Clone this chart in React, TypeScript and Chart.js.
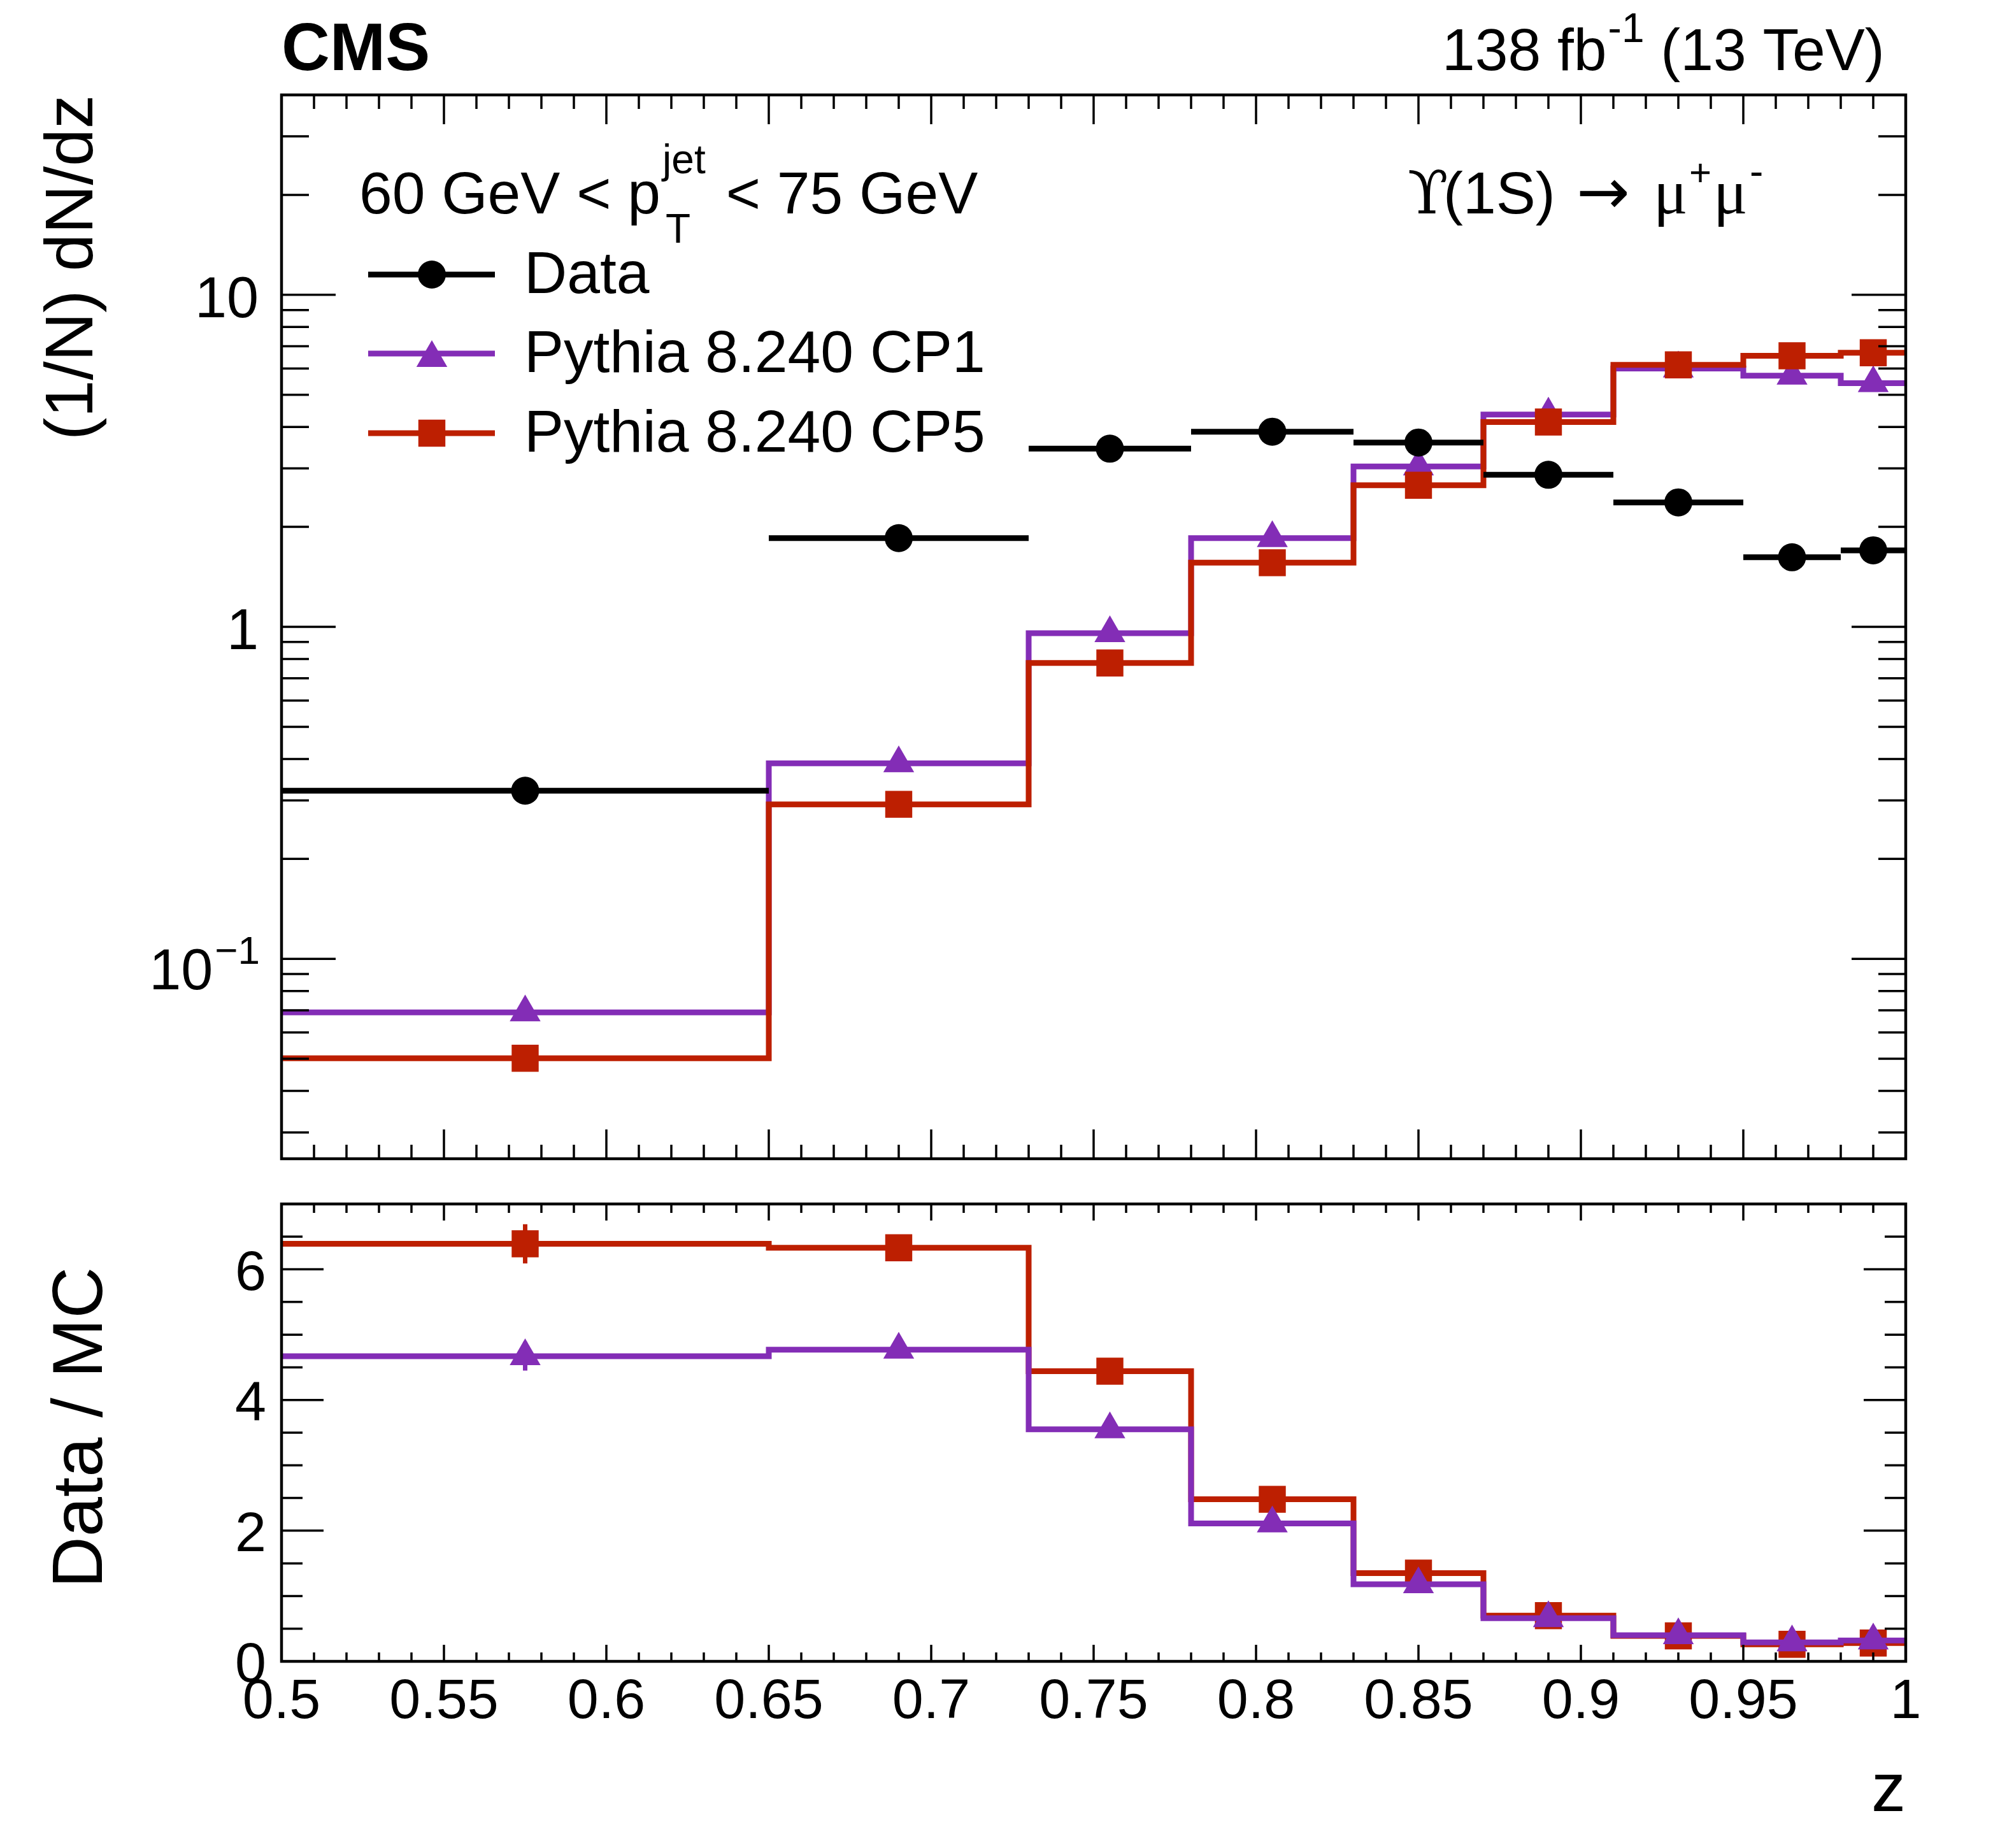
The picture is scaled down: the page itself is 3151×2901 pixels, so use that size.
import React, { useEffect, useRef } from "react";
import { Chart, registerables } from "chart.js";

Chart.register(...registerables);

// ---------------- data ----------------
const binEdges = [0.5, 0.65, 0.73, 0.78, 0.83, 0.87, 0.91, 0.95, 0.98, 1.0];
const dataValues = [0.321, 1.85, 3.44, 3.87, 3.59, 2.87, 2.37, 1.62, 1.7];
const cp1Values = [0.069, 0.388, 0.957, 1.85, 3.04, 4.36, 6.0, 5.71, 5.42];
const cp5Values = [0.0502, 0.292, 0.778, 1.56, 2.67, 4.14, 6.15, 6.55, 6.69];
const ratioCP1 = [4.67, 4.77, 3.55, 2.11, 1.18, 0.66, 0.4, 0.29, 0.32];
const ratioCP5 = [6.39, 6.33, 4.44, 2.48, 1.35, 0.7, 0.39, 0.26, 0.28];
const ratioCP1Err = [0.22, 0.12, 0.1, 0.06, 0.04, 0.03, 0.02, 0.02, 0.02];
const ratioCP5Err = [0.3, 0.16, 0.12, 0.07, 0.05, 0.03, 0.02, 0.02, 0.02];

const xMajorTicks = [0.5, 0.55, 0.6, 0.65, 0.7, 0.75, 0.8, 0.85, 0.9, 0.95, 1.0];
const xTickLabels = ["0.5", "0.55", "0.6", "0.65", "0.7", "0.75", "0.8", "0.85", "0.9", "0.95", "1"];
const upperYMajorTicks = [0.1, 1, 10];
const upperYTickBase = ["10", "1", "10"];
const upperYTickExp = ["\u22121", "", ""];
const lowerYMajorTicks = [0, 2, 4, 6];
const lowerYTickLabels = ["0", "2", "4", "6"];

const seriesLabels = ["Data", "Pythia 8.240 CP1", "Pythia 8.240 CP5"];

// ---------------- layout / style ----------------
const W = 3151;
const H = 2901;
const TOP_H = 1860;
const BOT_H = H - TOP_H;
const PLOT_L = 442;
const PLOT_R = 2992;
const TOP_T = 149;
const TOP_B = 1819;
const BOT_T = 1876;
const BOT_B = 2608;

const PURPLE = "#832DB6";
const RED = "#BD1F01";
const BLACK = "#000000";
const FONT = '"Liberation Sans", Arial, Helvetica, sans-serif';
const SERIF = '"Liberation Serif", "DejaVu Serif", serif';

const R_CIRCLE = 22;
const R_TRI = 28;
const R_RECT = 30;
const STEP_W = 9;

const binCenters = binEdges.slice(0, -1).map((e, i) => (e + binEdges[i + 1]) / 2);

const stepPoints = (vals: number[]) => [
  ...vals.map((v, i) => ({ x: binEdges[i], y: v })),
  { x: binEdges[binEdges.length - 1], y: vals[vals.length - 1] },
];
const barPoints = (vals: number[]) =>
  vals.flatMap((v, i) => [
    { x: binEdges[i], y: v },
    { x: binEdges[i + 1], y: v },
    { x: binEdges[i + 1], y: null as any },
  ]);
const centerPoints = (vals: number[]) => vals.map((v, i) => ({ x: binCenters[i], y: v }));

function stepDataset(label: string, vals: number[], color: string, order: number) {
  return {
    type: "line" as const,
    label,
    data: stepPoints(vals),
    stepped: "before" as const,
    borderColor: color,
    borderWidth: STEP_W,
    borderJoinStyle: "miter" as const,
    borderCapStyle: "butt" as const,
    pointRadius: 0,
    fill: false,
    order,
  };
}
function markerDataset(label: string, vals: number[], color: string, style: string, r: number, order: number) {
  return {
    type: "line" as const,
    label,
    data: centerPoints(vals),
    showLine: false,
    pointStyle: style,
    pointRadius: r,
    pointBackgroundColor: color,
    pointBorderColor: color,
    pointBorderWidth: 0,
    order,
  };
}

// ---------------- drawing helpers ----------------
function txt(ctx: CanvasRenderingContext2D, s: string, x: number, y: number, size: number, align: CanvasTextAlign = "left", bold = false, family = FONT) {
  ctx.font = `${bold ? "bold " : ""}${size}px ${family}`;
  ctx.textAlign = align;
  ctx.textBaseline = "alphabetic";
  ctx.fillStyle = "#000";
  ctx.fillText(s, x, y);
  return ctx.measureText(s).width;
}
function seg(ctx: CanvasRenderingContext2D, x1: number, y1: number, x2: number, y2: number) {
  ctx.beginPath();
  ctx.moveTo(x1, y1);
  ctx.lineTo(x2, y2);
  ctx.stroke();
}
function marker(ctx: CanvasRenderingContext2D, style: string, x: number, y: number, r: number, color: string) {
  ctx.fillStyle = color;
  ctx.beginPath();
  if (style === "circle") ctx.arc(x, y, r, 0, Math.PI * 2);
  else if (style === "triangle") {
    ctx.moveTo(x, y - r);
    ctx.lineTo(x + 0.866 * r, y + 0.5 * r);
    ctx.lineTo(x - 0.866 * r, y + 0.5 * r);
    ctx.closePath();
  } else {
    const s = Math.SQRT1_2 * r;
    ctx.rect(x - s, y - s, 2 * s, 2 * s);
  }
  ctx.fill();
}
function xTickValues() {
  const out: { v: number; major: boolean }[] = [];
  for (let k = 50; k <= 100; k++) out.push({ v: k / 100, major: k % 5 === 0 });
  return out;
}
function drawXTicks(chart: any, majorLen: number, minorLen: number) {
  const ctx = chart.ctx;
  const ca = chart.chartArea;
  const xs = chart.scales.x;
  for (const t of xTickValues()) {
    const px = xs.getPixelForValue(t.v);
    const len = t.major ? majorLen : minorLen;
    seg(ctx, px, ca.bottom, px, ca.bottom - len);
    seg(ctx, px, ca.top, px, ca.top + len);
  }
}
function drawYTick(chart: any, py: number, len: number) {
  const ctx = chart.ctx;
  const ca = chart.chartArea;
  seg(ctx, ca.left, py, ca.left + len, py);
  seg(ctx, ca.right, py, ca.right - len, py);
}
function drawFrame(chart: any) {
  const ctx = chart.ctx;
  const ca = chart.chartArea;
  ctx.strokeStyle = "#000";
  ctx.lineWidth = 4.5;
  ctx.strokeRect(ca.left, ca.top, ca.right - ca.left, ca.bottom - ca.top);
}

// ---------------- plugins ----------------
const upperDecor = {
  id: "upperDecor",
  afterDraw(chart: any) {
    const ctx: CanvasRenderingContext2D = chart.ctx;
    const ys = chart.scales.y;
    const ca = chart.chartArea;
    ctx.save();
    drawFrame(chart);
    ctx.lineWidth = 3.5;
    drawXTicks(chart, 46, 22);
    const ymin = ys.min;
    const ymax = ys.max;
    for (const dec of [0.01, 0.1, 1, 10]) {
      for (let k = 1; k <= 9; k++) {
        const v = k * dec;
        if (v < ymin * 0.999 || v > ymax * 1.001) continue;
        drawYTick(chart, ys.getPixelForValue(v), k === 1 ? 85 : 43);
      }
    }
    // y tick labels
    upperYMajorTicks.forEach((v, i) => {
      const py = ys.getPixelForValue(v);
      const exp = upperYTickExp[i];
      if (exp) {
        const ew = txt(ctx, exp, 408, py + 8, 62, "right");
        txt(ctx, upperYTickBase[i], 408 - ew - 3, py + 48, 90, "right");
      } else {
        txt(ctx, upperYTickBase[i], 406, py + 35, 90, "right");
      }
    });
    // y title
    ctx.save();
    ctx.translate(145, ca.top);
    ctx.rotate(-Math.PI / 2);
    txt(ctx, "(1/N) dN/dz", 0, 0, 106, "right");
    ctx.restore();
    // CMS + lumi
    txt(ctx, "CMS", ca.left, 110, 105, "left", true);
    let x = 2264;
    x += txt(ctx, "138 fb", x, 110, 93);
    x += 2 + txt(ctx, "-1", x + 2, 66, 64);
    txt(ctx, " (13 TeV)", x, 110, 93);
    // header
    x = 564;
    x += txt(ctx, "60 GeV < p", x, 335, 93);
    const jw = txt(ctx, "jet", x + 3, 272, 64);
    const tw = txt(ctx, "T", x + 8, 381, 64);
    const x2 = Math.max(x + 3 + jw, x + 8 + tw);
    txt(ctx, "< 75 GeV", x2 + 32, 335, 93);
    // legend
    const legendStyles = [
      { color: BLACK, style: "circle", r: R_CIRCLE },
      { color: PURPLE, style: "triangle", r: R_TRI },
      { color: RED, style: "rect", r: R_RECT },
    ];
    const legendY = [431, 555, 680];
    legendStyles.forEach((s, i) => {
      const cy = legendY[i];
      ctx.strokeStyle = s.color;
      ctx.lineWidth = STEP_W;
      seg(ctx, 578, cy, 777, cy);
      marker(ctx, s.style, 678, s.style === "triangle" ? cy + 7 : cy, s.r, s.color);
      txt(ctx, seriesLabels[i], 823, cy + 29, 93);
    });
    // channel label
    txt(ctx, "\u03D2", 2210, 335, 93, "left", false, '"DejaVu Serif", "Liberation Serif", serif');
    txt(ctx, "(1S)", 2266, 335, 93);
    txt(ctx, "\u2192", 2475, 335, 100, "left", false, '"DejaVu Sans", sans-serif');
    txt(ctx, "\u03BC", 2596, 335, 100, "left", false, SERIF);
    txt(ctx, "+", 2652, 291, 60);
    txt(ctx, "\u03BC", 2690, 335, 100, "left", false, SERIF);
    txt(ctx, "-", 2747, 291, 64);
    ctx.restore();
  },
};

const lowerDecor = {
  id: "lowerDecor",
  beforeDatasetsDraw(chart: any) {
    const ctx: CanvasRenderingContext2D = chart.ctx;
    const xs = chart.scales.x;
    const ys = chart.scales.y;
    ctx.save();
    const drawErr = (vals: number[], errs: number[], color: string) => {
      ctx.strokeStyle = color;
      ctx.lineWidth = 7;
      vals.forEach((v, i) => {
        const px = xs.getPixelForValue(binCenters[i]);
        seg(ctx, px, ys.getPixelForValue(v - errs[i]), px, ys.getPixelForValue(v + errs[i]));
      });
    };
    drawErr(ratioCP5, ratioCP5Err, RED);
    drawErr(ratioCP1, ratioCP1Err, PURPLE);
    ctx.restore();
  },
  afterDraw(chart: any) {
    const ctx: CanvasRenderingContext2D = chart.ctx;
    const xs = chart.scales.x;
    const ys = chart.scales.y;
    const ca = chart.chartArea;
    ctx.save();
    drawFrame(chart);
    ctx.lineWidth = 3.5;
    drawXTicks(chart, 26, 14);
    for (let k = 0; k <= 14; k++) {
      const v = k * 0.5;
      drawYTick(chart, ys.getPixelForValue(v), k % 4 === 0 ? 66 : 33);
    }
    xMajorTicks.forEach((v, i) => {
      txt(ctx, xTickLabels[i], xs.getPixelForValue(v), ca.bottom + 89, 88, "center");
    });
    lowerYMajorTicks.forEach((v, i) => {
      txt(ctx, lowerYTickLabels[i], 418, ys.getPixelForValue(v) + 32, 88, "right");
    });
    txt(ctx, "z", ca.right, 2843 - 1860, 108, "right");
    ctx.save();
    ctx.translate(160, (ca.top + ca.bottom) / 2 - 8);
    ctx.rotate(-Math.PI / 2);
    txt(ctx, "Data / MC", 0, 0, 112, "center");
    ctx.restore();
    ctx.restore();
  },
};

// ---------------- configs ----------------
function upperConfig(): any {
  return {
    type: "line",
    data: {
      datasets: [
        stepDataset(seriesLabels[1], cp1Values, PURPLE, 6),
        markerDataset(seriesLabels[1], cp1Values, PURPLE, "triangle", R_TRI, 5),
        stepDataset(seriesLabels[2], cp5Values, RED, 4),
        markerDataset(seriesLabels[2], cp5Values, RED, "rect", R_RECT, 3),
        {
          type: "line",
          label: seriesLabels[0],
          data: barPoints(dataValues),
          borderColor: BLACK,
          borderWidth: STEP_W,
          borderCapStyle: "butt",
          pointRadius: 0,
          spanGaps: false,
          fill: false,
          order: 2,
        },
        markerDataset(seriesLabels[0], dataValues, BLACK, "circle", R_CIRCLE, 1),
      ],
    },
    options: {
      responsive: false,
      animation: false,
      events: [],
      layout: { padding: { left: PLOT_L, right: W - PLOT_R, top: TOP_T, bottom: TOP_H - TOP_B } },
      elements: { line: { tension: 0 } },
      scales: {
        x: { type: "linear", min: 0.5, max: 1.0, display: false },
        y: { type: "logarithmic", min: 0.025, max: 40, display: false },
      },
      plugins: { legend: { display: false }, tooltip: { enabled: false } },
    },
    plugins: [upperDecor],
  };
}

function lowerConfig(): any {
  return {
    type: "line",
    data: {
      datasets: [
        stepDataset(seriesLabels[2], ratioCP5, RED, 4),
        markerDataset(seriesLabels[2], ratioCP5, RED, "rect", R_RECT, 3),
        stepDataset(seriesLabels[1], ratioCP1, PURPLE, 2),
        markerDataset(seriesLabels[1], ratioCP1, PURPLE, "triangle", R_TRI, 1),
      ],
    },
    options: {
      responsive: false,
      animation: false,
      events: [],
      layout: { padding: { left: PLOT_L, right: W - PLOT_R, top: BOT_T - TOP_H, bottom: H - BOT_B } },
      elements: { line: { tension: 0 } },
      scales: {
        x: { type: "linear", min: 0.5, max: 1.0, display: false },
        y: { type: "linear", min: 0, max: 7, display: false },
      },
      plugins: { legend: { display: false }, tooltip: { enabled: false } },
    },
    plugins: [lowerDecor],
  };
}

export default function App() {
  const topRef = useRef<HTMLCanvasElement>(null);
  const botRef = useRef<HTMLCanvasElement>(null);
  useEffect(() => {
    const top = new Chart(topRef.current as HTMLCanvasElement, upperConfig());
    const bot = new Chart(botRef.current as HTMLCanvasElement, lowerConfig());
    return () => {
      top.destroy();
      bot.destroy();
    };
  }, []);
  return (
    <div style={{ position: "absolute", left: 0, top: 0, width: W, height: H, background: "#fff" }}>
      <canvas
        ref={topRef}
        width={W}
        height={TOP_H}
        style={{ position: "absolute", left: 0, top: 0, width: W, height: TOP_H }}
      />
      <canvas
        ref={botRef}
        width={W}
        height={BOT_H}
        style={{ position: "absolute", left: 0, top: TOP_H, width: W, height: BOT_H }}
      />
    </div>
  );
}
